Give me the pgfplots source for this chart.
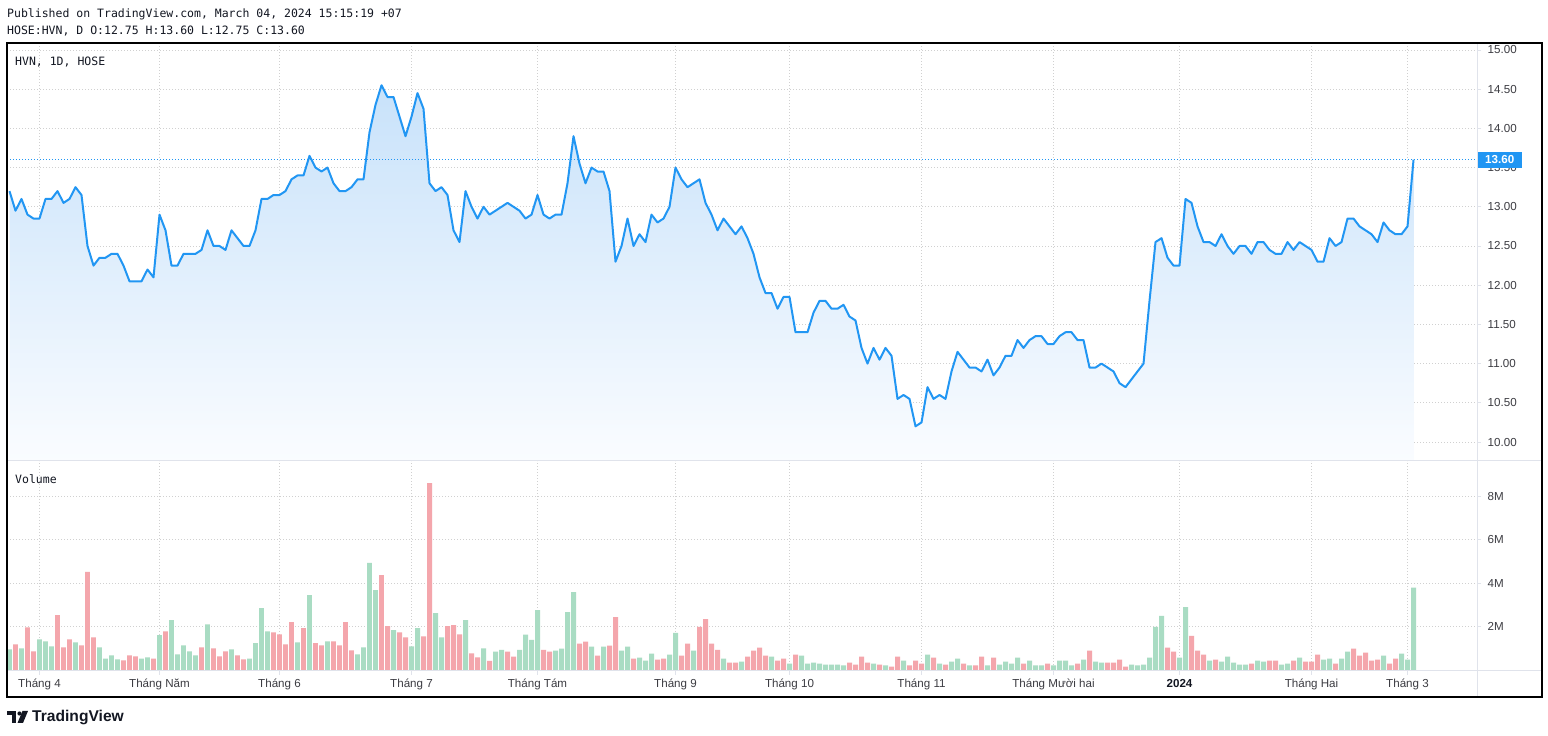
\documentclass[border=0pt]{standalone}
\usepackage{fontspec}
\setmainfont{Liberation Sans}
\newfontfamily\monofont{DejaVu Sans Mono}
\usepackage{pgfplots}
\usepackage{pgfplotstable}
\pgfplotsset{compat=1.18}

\definecolor{tvblue}{RGB}{33,150,243}
\definecolor{fillTop}{RGB}{200,226,250}
\definecolor{fillBot}{RGB}{250,252,255}
\definecolor{volUp}{RGB}{169,220,195}
\definecolor{volDn}{RGB}{244,166,172}
\definecolor{gridc}{RGB}{208,208,208}
\definecolor{sepc}{RGB}{224,227,235}
\definecolor{txt}{RGB}{60,60,66}
\definecolor{ink}{RGB}{19,23,34}

% daily close, HOSE:HVN
\pgfplotstableread[row sep=\\]{
i c \\
0 13.20 \\ 1 12.95 \\ 2 13.10 \\ 3 12.90 \\ 4 12.85 \\ 5 12.85 \\ 6 13.10 \\ 7 13.10 \\ 8 13.20 \\ 9 13.05 \\
10 13.10 \\ 11 13.25 \\ 12 13.15 \\ 13 12.50 \\ 14 12.25 \\ 15 12.35 \\ 16 12.35 \\ 17 12.40 \\ 18 12.40 \\ 19 12.25 \\
20 12.05 \\ 21 12.05 \\ 22 12.05 \\ 23 12.20 \\ 24 12.10 \\ 25 12.90 \\ 26 12.70 \\ 27 12.25 \\ 28 12.25 \\ 29 12.40 \\
30 12.40 \\ 31 12.40 \\ 32 12.45 \\ 33 12.70 \\ 34 12.50 \\ 35 12.50 \\ 36 12.45 \\ 37 12.70 \\ 38 12.60 \\ 39 12.50 \\
40 12.50 \\ 41 12.70 \\ 42 13.10 \\ 43 13.10 \\ 44 13.15 \\ 45 13.15 \\ 46 13.20 \\ 47 13.35 \\ 48 13.40 \\ 49 13.40 \\
50 13.65 \\ 51 13.50 \\ 52 13.45 \\ 53 13.50 \\ 54 13.30 \\ 55 13.20 \\ 56 13.20 \\ 57 13.25 \\ 58 13.35 \\ 59 13.35 \\
60 13.95 \\ 61 14.30 \\ 62 14.55 \\ 63 14.40 \\ 64 14.40 \\ 65 14.15 \\ 66 13.90 \\ 67 14.15 \\ 68 14.45 \\ 69 14.25 \\
70 13.30 \\ 71 13.20 \\ 72 13.25 \\ 73 13.15 \\ 74 12.70 \\ 75 12.55 \\ 76 13.20 \\ 77 13.00 \\ 78 12.85 \\ 79 13.00 \\
80 12.90 \\ 81 12.95 \\ 82 13.00 \\ 83 13.05 \\ 84 13.00 \\ 85 12.95 \\ 86 12.85 \\ 87 12.90 \\ 88 13.15 \\ 89 12.90 \\
90 12.85 \\ 91 12.90 \\ 92 12.90 \\ 93 13.30 \\ 94 13.90 \\ 95 13.55 \\ 96 13.30 \\ 97 13.50 \\ 98 13.45 \\ 99 13.45 \\
100 13.20 \\ 101 12.30 \\ 102 12.50 \\ 103 12.85 \\ 104 12.50 \\ 105 12.65 \\ 106 12.55 \\ 107 12.90 \\ 108 12.80 \\ 109 12.85 \\
110 13.00 \\ 111 13.50 \\ 112 13.35 \\ 113 13.25 \\ 114 13.30 \\ 115 13.35 \\ 116 13.05 \\ 117 12.90 \\ 118 12.70 \\ 119 12.85 \\
120 12.75 \\ 121 12.65 \\ 122 12.75 \\ 123 12.60 \\ 124 12.40 \\ 125 12.10 \\ 126 11.90 \\ 127 11.90 \\ 128 11.70 \\ 129 11.85 \\
130 11.85 \\ 131 11.40 \\ 132 11.40 \\ 133 11.40 \\ 134 11.65 \\ 135 11.80 \\ 136 11.80 \\ 137 11.70 \\ 138 11.70 \\ 139 11.75 \\
140 11.60 \\ 141 11.55 \\ 142 11.20 \\ 143 11.00 \\ 144 11.20 \\ 145 11.05 \\ 146 11.20 \\ 147 11.10 \\ 148 10.55 \\ 149 10.60 \\
150 10.55 \\ 151 10.20 \\ 152 10.25 \\ 153 10.70 \\ 154 10.55 \\ 155 10.60 \\ 156 10.55 \\ 157 10.90 \\ 158 11.15 \\ 159 11.05 \\
160 10.95 \\ 161 10.95 \\ 162 10.90 \\ 163 11.05 \\ 164 10.85 \\ 165 10.95 \\ 166 11.10 \\ 167 11.10 \\ 168 11.30 \\ 169 11.20 \\
170 11.30 \\ 171 11.35 \\ 172 11.35 \\ 173 11.25 \\ 174 11.25 \\ 175 11.35 \\ 176 11.40 \\ 177 11.40 \\ 178 11.30 \\ 179 11.30 \\
180 10.95 \\ 181 10.95 \\ 182 11.00 \\ 183 10.95 \\ 184 10.90 \\ 185 10.75 \\ 186 10.70 \\ 187 10.80 \\ 188 10.90 \\ 189 11.00 \\
190 11.80 \\ 191 12.55 \\ 192 12.60 \\ 193 12.35 \\ 194 12.25 \\ 195 12.25 \\ 196 13.10 \\ 197 13.05 \\ 198 12.75 \\ 199 12.55 \\
200 12.55 \\ 201 12.50 \\ 202 12.65 \\ 203 12.50 \\ 204 12.40 \\ 205 12.50 \\ 206 12.50 \\ 207 12.40 \\ 208 12.55 \\ 209 12.55 \\
210 12.45 \\ 211 12.40 \\ 212 12.40 \\ 213 12.55 \\ 214 12.45 \\ 215 12.55 \\ 216 12.50 \\ 217 12.45 \\ 218 12.30 \\ 219 12.30 \\
220 12.60 \\ 221 12.50 \\ 222 12.55 \\ 223 12.85 \\ 224 12.85 \\ 225 12.75 \\ 226 12.70 \\ 227 12.65 \\ 228 12.55 \\ 229 12.80 \\
230 12.70 \\ 231 12.65 \\ 232 12.65 \\ 233 12.75 \\ 234 13.60 \\
}\price

% volume (millions), up days
\pgfplotstableread[row sep=\\]{
i v \\
0 0.97 \\ 2 1.02 \\ 5 1.43 \\ 6 1.34 \\ 7 1.11 \\ 11 1.29 \\ 15 1.06 \\ 16 0.55 \\ 17 0.69 \\ 18 0.51 \\
22 0.55 \\ 23 0.60 \\ 25 1.62 \\ 27 2.31 \\ 28 0.74 \\ 29 1.15 \\ 30 0.88 \\ 31 0.69 \\ 33 2.12 \\ 37 0.97 \\
40 0.55 \\ 41 1.25 \\ 42 2.86 \\ 43 1.80 \\ 48 1.29 \\ 50 3.46 \\ 53 1.34 \\ 58 0.74 \\ 59 1.06 \\ 60 4.94 \\
61 3.69 \\ 64 1.85 \\ 67 1.11 \\ 68 1.94 \\ 71 2.63 \\ 72 1.52 \\ 76 2.31 \\ 79 1.02 \\ 81 0.86 \\ 82 0.95 \\
85 0.95 \\ 86 1.64 \\ 87 1.41 \\ 88 2.77 \\ 91 0.91 \\ 92 1.00 \\ 93 2.68 \\ 94 3.59 \\ 97 1.09 \\ 99 1.09 \\
102 0.91 \\ 103 1.09 \\ 105 0.59 \\ 106 0.45 \\ 107 0.77 \\ 110 0.73 \\ 111 1.73 \\ 114 0.91 \\ 119 0.55 \\ 122 0.41 \\
127 0.64 \\ 130 0.32 \\ 132 0.68 \\ 133 0.32 \\ 134 0.36 \\ 135 0.32 \\ 136 0.27 \\ 137 0.27 \\ 138 0.27 \\ 139 0.23 \\
144 0.32 \\ 146 0.23 \\ 149 0.45 \\ 153 0.73 \\ 155 0.32 \\ 157 0.41 \\ 158 0.55 \\ 160 0.23 \\ 163 0.23 \\ 165 0.27 \\
166 0.41 \\ 167 0.32 \\ 168 0.59 \\ 170 0.45 \\ 171 0.23 \\ 172 0.23 \\ 174 0.23 \\ 175 0.45 \\ 176 0.45 \\ 177 0.23 \\
179 0.50 \\ 181 0.41 \\ 182 0.36 \\ 187 0.27 \\ 188 0.23 \\ 189 0.27 \\ 190 0.59 \\ 191 2.00 \\ 192 2.50 \\ 195 0.59 \\
196 2.91 \\ 200 0.45 \\ 202 0.41 \\ 203 0.64 \\ 204 0.36 \\ 205 0.27 \\ 206 0.27 \\ 208 0.45 \\ 209 0.41 \\ 212 0.27 \\
213 0.32 \\ 215 0.59 \\ 219 0.50 \\ 220 0.55 \\ 222 0.55 \\ 223 0.86 \\ 229 0.68 \\ 232 0.77 \\ 233 0.50 \\ 234 3.80 \\
}\volup

% volume (millions), down days
\pgfplotstableread[row sep=\\]{
i v \\
1 1.20 \\ 3 1.98 \\ 4 0.88 \\ 8 2.54 \\ 9 1.06 \\ 10 1.43 \\ 12 1.15 \\ 13 4.52 \\ 14 1.52 \\ 19 0.46 \\
20 0.69 \\ 21 0.65 \\ 24 0.55 \\ 26 1.80 \\ 32 1.06 \\ 34 1.02 \\ 35 0.65 \\ 36 0.88 \\ 38 0.69 \\ 39 0.51 \\
44 1.75 \\ 45 1.66 \\ 46 1.20 \\ 47 2.22 \\ 49 1.94 \\ 51 1.25 \\ 52 1.15 \\ 54 1.34 \\ 55 1.15 \\ 56 2.22 \\
57 0.92 \\ 62 4.38 \\ 63 2.03 \\ 65 1.75 \\ 66 1.52 \\ 69 1.57 \\ 70 8.60 \\ 73 2.03 \\ 74 2.08 \\ 75 1.66 \\
77 0.78 \\ 78 0.60 \\ 80 0.44 \\ 83 0.86 \\ 84 0.64 \\ 89 0.95 \\ 90 0.86 \\ 95 1.23 \\ 96 1.32 \\ 98 0.68 \\
100 1.14 \\ 101 2.45 \\ 104 0.55 \\ 108 0.50 \\ 109 0.55 \\ 112 0.68 \\ 113 1.23 \\ 115 2.00 \\ 116 2.36 \\ 117 1.23 \\
118 0.95 \\ 120 0.36 \\ 121 0.36 \\ 123 0.64 \\ 124 0.91 \\ 125 1.05 \\ 126 0.68 \\ 128 0.45 \\ 129 0.55 \\ 131 0.73 \\
140 0.36 \\ 141 0.27 \\ 142 0.64 \\ 143 0.36 \\ 145 0.27 \\ 147 0.18 \\ 148 0.64 \\ 150 0.23 \\ 151 0.45 \\ 152 0.32 \\
154 0.59 \\ 156 0.27 \\ 159 0.32 \\ 161 0.23 \\ 162 0.64 \\ 164 0.59 \\ 169 0.32 \\ 173 0.32 \\ 178 0.32 \\ 180 0.91 \\
183 0.36 \\ 184 0.36 \\ 185 0.50 \\ 186 0.18 \\ 193 1.05 \\ 194 0.86 \\ 197 1.59 \\ 198 0.91 \\ 199 0.73 \\ 201 0.50 \\
207 0.32 \\ 210 0.45 \\ 211 0.45 \\ 214 0.45 \\ 216 0.41 \\ 217 0.41 \\ 218 0.73 \\ 221 0.32 \\ 224 1.00 \\ 225 0.68 \\
226 0.82 \\ 227 0.45 \\ 228 0.50 \\ 230 0.32 \\ 231 0.55 \\
}\voldn

\pgfplotsset{
  tvpane/.style={
    scale only axis, anchor=south west, width=1470pt,
    xmin=-0.417, xmax=244.583,
    axis line style={draw=none},
    tick align=outside, major tick length=4pt,
    xtick={5,25,45,67,88,111,130,152,174,195,217,233},
    grid=major,
    major grid style={gridc, line width=0.9pt, dash pattern=on 0.9pt off 2.1pt},
    xtick pos=bottom, ytick pos=right, yticklabel pos=right,
    ytick style={sepc, line width=0.8pt},
    ticklabel style={font=\fontsize{11.6}{13}\selectfont, text=txt},
    yticklabel style={anchor=west, inner sep=0pt, xshift=6.5pt},
  }
}

\begin{document}
\begin{tikzpicture}
\useasboundingbox (0,0) rectangle (1548pt,736pt);
\fill[white] (0,0) rectangle (1548pt,736pt);

% price pane
\begin{axis}[tvpane,
  at={(7pt,275pt)}, height=418pt,
  ymin=9.758, ymax=15.089,
  ytick={10,10.5,11,11.5,12,12.5,13,13.5,14,14.5,15},
  yticklabels={10.00,10.50,11.00,11.50,12.00,12.50,13.00,13.50,14.00,14.50,15.00},
  xticklabels={}, xtick style={draw=none},
]
\addplot[draw=none, top color=fillTop, bottom color=fillBot]
  table[x=i, y=c] {\price} -- (axis cs:234,9.758) -- (axis cs:0,9.758) -- cycle;
\addplot[tvblue, line width=1.1pt, dash pattern=on 1.1pt off 1.9pt]
  coordinates {(-0.417,13.6) (244.583,13.6)};
\addplot[tvblue, line width=2pt, line join=round] table[x=i, y=c] {\price};
\end{axis}

% volume pane
\begin{axis}[tvpane,
  at={(7pt,65pt)}, height=210pt,
  ymin=-0.023, ymax=9.61,
  ytick={2,4,6,8}, yticklabels={2M,4M,6M,8M},
  xticklabels={Tháng 4,Tháng Năm,Tháng 6,Tháng 7,Tháng Tám,Tháng 9,Tháng 10,Tháng 11,Tháng Mười hai,\textbf{\textcolor{ink}{2024}},Tháng Hai,Tháng 3},
  xtick style={sepc, line width=0.8pt},
  xticklabel style={anchor=base, inner sep=0pt, yshift=-13pt},
]
\addplot[ybar, bar width=0.83, bar shift=0pt, fill=volUp, draw=none] table[x=i, y=v] {\volup};
\addplot[ybar, bar width=0.83, bar shift=0pt, fill=volDn, draw=none] table[x=i, y=v] {\voldn};
\end{axis}

% pane separators and frame
\draw[sepc, line width=1pt] (1477.5pt,39pt) -- (1477.5pt,693pt);
\draw[sepc, line width=1pt] (7pt,275pt) -- (1542pt,275pt);
\draw[sepc, line width=1pt] (7pt,65pt) -- (1542pt,65pt);
\draw[black, line width=1.3pt] (7pt,39pt) rectangle (1542pt,693pt);

% last price tag
\fill[tvblue] (1477.5pt,568pt) rectangle (1522pt,584pt);
\node[text=white, font=\bfseries\fontsize{11.6}{13}\selectfont, inner sep=0pt] at (1499.7pt,576pt) {13.60};

% texts
\begin{scope}[every node/.style={inner sep=0pt, anchor=base west, text=ink, font=\monofont\fontsize{11.5}{13}\selectfont}]
\node at (7pt,718pt) {Published on TradingView.com, March 04, 2024 15:15:19 +07};
\node at (7pt,701pt) {HOSE:HVN, D O:12.75 H:13.60 L:12.75 C:13.60};
\node at (15pt,670pt) {HVN, 1D, HOSE};
\node at (15pt,252pt) {Volume};
\end{scope}

% TradingView logo
\fill[ink] (7pt,25pt) rectangle (16pt,21pt);
\fill[ink] (12pt,25pt) rectangle (16pt,13pt);
\fill[ink] (19.5pt,22.5pt) circle (2.1pt);
\fill[ink] (22.5pt,25pt) -- (28pt,25pt) -- (23pt,13pt) -- (17.5pt,13pt) -- cycle;
\node[anchor=base west, inner sep=0pt, text=ink, font=\bfseries\fontsize{15.6}{18}\selectfont] at (32pt,14pt) {TradingView};
\end{tikzpicture}
\end{document}
